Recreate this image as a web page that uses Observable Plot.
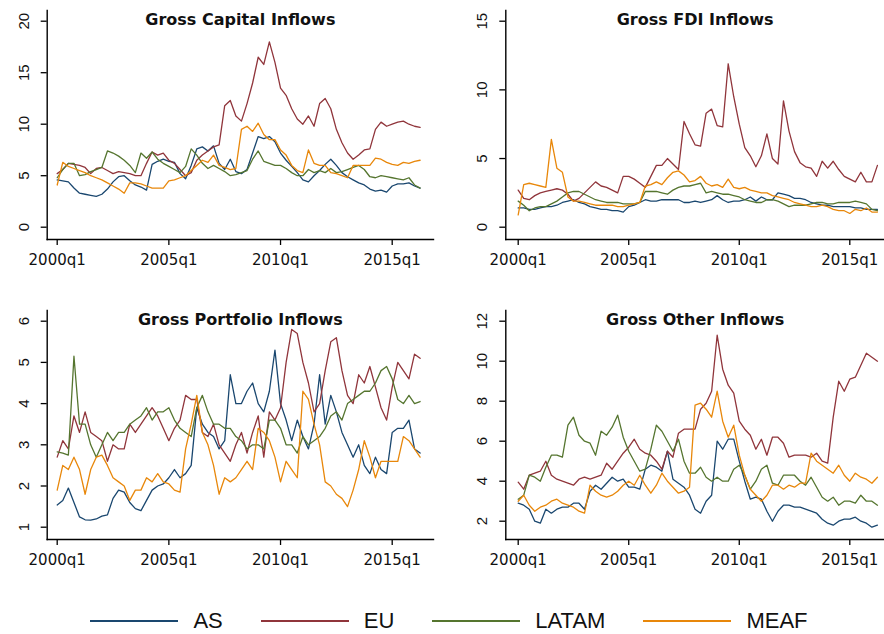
<!DOCTYPE html>
<html><head><meta charset="utf-8">
<script src="https://cdn.jsdelivr.net/npm/d3@7"></script>
<script src="https://cdn.jsdelivr.net/npm/@observablehq/plot@0.6"></script>
<style>
body{margin:0;background:#fff;}
#root{position:relative;width:884px;height:634px;overflow:hidden;background:#fff;}
.panel{position:absolute;}
.panel svg{overflow:visible;}
#legend{position:absolute;left:0;top:607px;width:884px;height:28px;display:flex;justify-content:center;gap:38px;font-family:"Liberation Sans",Arial,sans-serif;font-size:22px;color:#111;padding-left:14px;box-sizing:border-box;}
.item{display:flex;align-items:center;}
.sw{width:88px;height:2.2px;margin-right:15px;}
</style>
</head><body>
<div id="root"><div id="legend"></div></div>
<script>
const regions = ["AS", "EU", "LATAM", "MEAF"];
const colors = ["#1a476f", "#90353b", "#55752f", "#e8870a"];
const titles = ["Gross Capital Inflows", "Gross FDI Inflows", "Gross Portfolio Inflows", "Gross Other Inflows"];
const xTickYears = [2000, 2005, 2010, 2015];
const xTickLabels = ["2000q1", "2005q1", "2010q1", "2015q1"];
const yTicksCap = [0, 5, 10, 15, 20];
const yTicksFdi = [0, 5, 10, 15];
const yTicksPort = [1, 2, 3, 4, 5, 6];
const yTicksOth = [2, 4, 6, 8, 10, 12];
const startYear = 2000, nQuarters = 66;

const capAS = [4.6,4.5,4.4,3.8,3.3,3.2,3.1,3.0,3.2,3.7, 4.4,4.9,5.0,4.5,4.1,3.9,3.6,6.1,6.4,6.6, 6.4,6.3,5.2,4.7,6.0,7.6,7.8,7.4,7.9,6.2, 5.6,6.6,5.4,5.2,5.6,7.2,8.8,8.6,8.8,8.3, 7.2,6.5,5.9,5.3,4.6,4.4,5.0,5.5,6.1,6.6, 6.0,5.3,4.9,4.6,4.3,4.1,3.7,3.5,3.6,3.4, 4.0,4.2,4.2,4.3,4.0,3.8];
const capEU = [5.2,5.6,6.2,6.1,6.0,5.8,5.2,5.7,5.8,5.5, 5.2,5.4,5.3,5.2,5.0,5.0,6.2,7.3,7.0,7.2, 6.5,6.2,5.6,5.0,5.3,6.5,7.0,7.4,7.8,8.0, 11.8,12.3,10.8,10.3,12.0,14.0,16.5,15.8,18.0,16.0, 13.5,12.8,11.5,10.5,10.0,10.8,9.8,12.0,12.5,11.5, 9.5,8.2,7.2,6.6,7.0,7.5,7.6,9.5,10.2,9.8, 10.0,10.2,10.3,10.0,9.8,9.7];
const capLATAM = [4.8,5.6,6.2,6.2,5.0,5.1,5.4,5.6,5.8,7.4, 7.2,6.9,6.5,6.0,5.3,7.2,6.7,7.3,6.6,6.2, 5.9,5.6,5.3,5.9,7.6,7.0,6.2,5.7,6.0,5.7, 5.4,5.0,5.1,5.3,5.5,6.6,7.4,6.4,6.2,6.0, 6.0,5.7,5.3,5.0,5.0,5.6,5.3,5.5,5.3,5.7, 5.3,5.4,5.6,5.8,6.0,5.6,4.9,4.8,5.0,4.9, 4.8,4.7,4.6,4.8,4.1,3.8];
const capMEAF = [4.1,6.3,5.9,5.7,5.5,5.3,5.0,4.8,4.6,4.3, 4.0,3.7,3.3,4.3,4.3,4.2,4.0,3.8,3.8,3.8, 4.5,4.6,4.8,5.0,5.5,6.0,6.5,6.3,7.0,6.0, 5.8,5.6,5.7,9.5,9.8,9.3,10.1,9.0,8.5,8.5, 7.5,7.0,6.0,5.5,5.3,7.5,6.2,6.0,6.0,5.3, 5.2,5.0,4.8,6.0,6.0,6.0,6.0,6.7,6.6,6.3, 6.1,6.0,6.3,6.2,6.4,6.5];

const fdiAS = [1.4,1.4,1.3,1.3,1.4,1.5,1.5,1.6,1.8,1.9, 2.0,1.8,1.7,1.5,1.4,1.3,1.3,1.2,1.2,1.1, 1.5,1.6,1.8,2.0,1.9,1.9,2.0,2.0,2.0,2.0, 1.8,1.8,1.9,1.8,1.9,2.0,2.3,2.0,1.8,1.9, 1.9,2.0,2.2,1.9,2.2,2.0,2.0,2.5,2.4,2.3, 2.1,2.1,2.0,1.8,1.7,1.6,1.6,1.5,1.5,1.5, 1.5,1.4,1.4,1.3,1.3,1.3];
const fdiEU = [2.7,2.1,2.0,2.3,2.5,2.6,2.7,2.8,2.7,2.4, 1.9,2.1,2.5,2.9,3.3,3.0,2.9,2.7,2.5,3.7, 3.7,3.5,3.2,2.9,3.7,4.5,4.5,5.0,4.6,4.2, 7.7,6.8,6.0,5.9,8.3,8.6,7.4,7.3,11.9,9.5, 7.5,5.8,5.2,4.4,5.2,6.8,5.0,4.6,9.2,7.0, 5.5,4.7,4.4,4.3,3.7,4.8,4.3,4.8,4.2,3.7, 3.5,3.3,4.0,3.3,3.3,4.5];
const fdiLATAM = [1.9,1.6,1.2,1.4,1.5,1.5,1.7,1.9,2.2,2.5, 2.6,2.6,2.4,2.2,2.0,1.9,1.8,1.8,1.8,1.7, 1.7,1.7,1.8,2.6,2.6,2.6,2.5,2.4,2.7,2.9, 3.0,3.0,3.1,3.2,2.5,2.6,2.5,2.4,2.4,2.3, 2.2,2.0,1.9,1.8,1.8,2.0,2.0,1.9,1.7,1.5, 1.6,1.6,1.6,1.7,1.8,1.8,1.7,1.7,1.8,1.8, 1.8,1.9,1.8,1.7,1.3,1.2];
const fdiMEAF = [0.9,3.1,3.2,3.1,3.0,2.9,6.4,4.3,4.0,2.2, 1.9,1.9,1.8,1.7,1.6,1.6,1.6,1.6,1.5,1.5, 1.6,1.7,1.8,3.0,3.1,3.3,3.1,3.6,4.0,4.1, 3.8,3.3,3.4,3.7,3.2,3.0,3.1,2.9,3.5,2.9, 2.8,2.9,2.7,2.6,2.5,2.5,2.3,2.2,2.1,2.0, 1.8,1.7,1.6,1.5,1.5,1.6,1.5,1.3,1.2,1.2, 1.0,1.3,1.2,1.4,1.1,1.1];

const portAS = [1.54,1.65,1.95,1.6,1.25,1.18,1.17,1.2,1.27,1.3, 1.7,1.9,1.85,1.6,1.45,1.4,1.65,1.9,2.0,2.05, 2.2,2.4,2.2,2.3,2.5,3.9,3.5,3.3,3.2,2.9, 3.1,4.7,4.0,4.0,4.3,4.5,4.0,3.8,4.3,5.3, 4.0,3.6,3.1,3.6,3.2,2.9,3.5,4.7,3.5,4.2, 3.8,3.3,3.0,2.7,3.0,2.5,2.3,2.7,2.4,2.3, 3.3,3.4,3.4,3.6,2.9,2.8];
const portEU = [2.7,3.1,2.9,3.7,3.3,3.8,3.3,3.2,3.1,2.6, 3.0,2.9,2.9,3.5,3.3,3.5,3.7,3.9,3.7,3.4, 3.1,3.4,3.6,4.2,4.1,4.1,3.3,3.2,3.5,3.0, 2.8,2.6,3.0,3.3,2.8,3.3,3.7,2.7,3.8,3.6, 3.9,5.0,5.8,5.7,5.0,4.5,3.8,4.0,4.8,5.5, 5.6,4.8,4.2,4.0,4.7,4.5,4.9,4.4,3.9,3.6, 4.4,5.0,4.8,4.6,5.2,5.1];
const portLATAM = [2.83,2.8,2.75,5.15,3.5,3.5,3.0,2.7,3.0,3.3, 3.1,3.3,3.3,3.5,3.6,3.7,3.9,3.6,3.8,3.8, 3.9,3.6,3.4,3.3,3.2,3.9,4.2,3.8,3.5,3.5, 3.4,3.4,3.2,3.1,2.9,3.0,3.0,2.9,3.6,3.6, 3.4,3.0,3.0,2.8,3.2,3.0,3.1,3.2,3.4,3.7, 3.8,3.6,4.0,4.1,4.2,4.3,4.3,4.5,4.8,4.9, 4.6,4.1,4.0,4.2,4.0,4.05];
const portMEAF = [1.9,2.5,2.4,2.7,2.4,1.8,2.4,2.7,2.75,2.5, 2.2,2.1,2.0,1.65,1.9,1.9,2.2,2.1,2.3,2.1, 2.05,1.9,1.85,2.9,3.5,4.2,3.3,3.0,2.5,1.8, 2.2,2.1,2.2,2.4,2.6,2.4,3.4,3.3,3.1,2.7, 2.1,2.6,2.4,2.2,4.3,4.1,3.5,3.0,2.1,2.0, 1.8,1.7,1.5,1.9,2.4,3.1,2.7,2.2,2.6,2.6, 2.6,2.6,3.2,3.1,2.9,2.7];

const othAS = [2.9,2.8,2.6,2.0,1.9,2.6,2.4,2.6,2.7,2.7, 2.9,2.9,2.6,3.5,3.8,3.6,3.9,4.2,4.0,4.1, 3.7,3.7,3.6,4.6,4.8,4.7,4.5,5.5,4.1,3.9, 3.7,3.3,2.6,2.4,3.0,3.3,6.0,5.6,6.1,6.1, 5.0,4.0,3.1,3.2,3.1,2.5,2.0,2.5,2.8,2.8, 2.7,2.7,2.6,2.5,2.4,2.1,1.9,1.8,2.0,2.1, 2.1,2.2,2.0,1.9,1.7,1.8];
const othEU = [3.95,3.6,4.3,4.4,4.5,5.0,4.3,4.1,4.0,3.9, 3.8,4.1,4.2,4.1,4.2,4.3,4.9,4.6,5.0,5.4, 5.7,6.1,5.6,5.4,5.3,5.0,4.6,5.5,5.2,6.4, 6.6,6.6,6.6,7.6,7.9,8.5,11.3,9.6,8.8,8.4, 7.0,6.6,6.3,5.6,6.1,5.3,6.2,6.2,5.9,5.2, 5.3,5.3,5.3,5.2,5.4,5.0,4.9,7.2,9.0,8.5, 9.1,9.2,9.8,10.4,10.2,10.0];
const othLATAM = [3.1,3.3,4.3,4.2,4.0,4.7,5.3,5.3,5.2,6.8, 7.2,6.3,6.0,5.9,5.3,6.5,6.3,6.7,7.3,6.2, 5.5,5.0,4.5,4.6,5.6,6.8,6.5,6.0,5.5,6.1, 5.0,4.4,4.4,4.7,4.2,4.0,4.2,4.0,4.0,4.6, 4.8,4.3,3.6,4.0,4.6,4.8,3.9,3.8,4.3,4.3, 4.3,4.0,3.8,4.2,3.7,3.2,3.0,3.2,2.8,3.0, 3.0,2.9,3.3,3.0,3.0,2.8];
const othMEAF = [3.0,3.3,2.8,2.5,2.7,2.8,3.0,3.1,2.9,2.8, 2.7,2.5,2.4,3.8,3.5,3.3,3.2,3.3,3.5,3.8, 4.0,3.8,4.3,3.8,3.4,3.8,4.4,4.0,3.7,3.4, 3.5,3.7,7.8,7.9,7.6,7.2,8.5,7.0,6.2,6.8, 5.3,4.3,3.6,3.3,3.0,3.3,3.8,3.8,3.6,3.8, 3.7,3.9,3.9,5.4,5.0,4.8,4.6,4.4,4.8,4.3, 4.0,4.4,4.2,4.1,3.9,4.2];

// time axis: one entry per quarter (year + fraction)
const quarters = d3.range(nQuarters).map(i => startYear + i / 4);

function rows(seriesList) {
  const out = [];
  seriesList.forEach((vals, k) => vals.forEach((v, i) => out.push({t: quarters[i], v, region: regions[k]})));
  return out;
}

const panels = [
  {title: titles[0], data: rows([capAS, capEU, capLATAM, capMEAF]), yTicks: yTicksCap, left: 0, top: 0, right: false},
  {title: titles[1], data: rows([fdiAS, fdiEU, fdiLATAM, fdiMEAF]), yTicks: yTicksFdi, left: 442, top: 0, right: true},
  {title: titles[2], data: rows([portAS, portEU, portLATAM, portMEAF]), yTicks: yTicksPort, left: 0, top: 300, right: false},
  {title: titles[3], data: rows([othAS, othEU, othLATAM, othMEAF]), yTicks: yTicksOth, left: 442, top: 300, right: true}
];

const root = document.getElementById("root");
panels.forEach((p, idx) => {
  const yMin = p.yTicks[0], yMax = p.yTicks[p.yTicks.length - 1];
  const yBottom = idx === 3 ? 220.7 : 226.7;
  const chart = Plot.plot({
    width: 442,
    height: 272,
    marginLeft: p.right ? 63.3 : 46.7,
    marginRight: p.right ? 0 : 9,
    marginTop: 10,
    marginBottom: 33,
    x: {type: "linear", domain: [2000, 2015], range: p.right ? [75.7, 407.3] : [56.7, 391.7]},
    y: {domain: [yMin, yMax], range: [yBottom, 20.7]},
    color: {domain: regions, range: colors},
    style: {background: "transparent", color: "#111", overflow: "visible"},
    marks: [
      Plot.axisX({ticks: xTickYears, tickFormat: d => xTickLabels[xTickYears.indexOf(d)], tickSize: 6, tickPadding: 8.5, fontSize: 15, fontFamily: "DejaVu Sans", stroke: "#000", strokeWidth: 1.3, label: null}),
      Plot.axisY({ticks: p.yTicks, tickFormat: d => String(d), tickSize: 6, tickPadding: 12.4, tickRotate: -90, textAnchor: "middle", lineAnchor: "bottom", fontSize: 15, fontFamily: "Liberation Sans", stroke: "#000", strokeWidth: 1.3, label: null}),
      Plot.frame({anchor: "left", stroke: "#000", strokeWidth: 1.4}),
      Plot.frame({anchor: "bottom", stroke: "#000", strokeWidth: 1.4}),
      Plot.line(p.data, {x: "t", y: "v", z: "region", stroke: "region", strokeWidth: 1.3}),
      Plot.text([p.title], {frameAnchor: "top", dy: 9.5, lineAnchor: "middle", fontSize: 16, fontWeight: "bold", fontFamily: "DejaVu Sans", fill: "#111"})
    ]
  });
  const div = document.createElement("div");
  div.className = "panel";
  div.style.left = p.left + "px";
  div.style.top = p.top + "px";
  div.appendChild(chart);
  root.appendChild(div);
});

const legend = document.getElementById("legend");
regions.forEach((r, k) => {
  const item = document.createElement("div");
  item.className = "item";
  const sw = document.createElement("div");
  sw.className = "sw";
  sw.style.background = colors[k];
  const label = document.createElement("span");
  label.textContent = r;
  item.appendChild(sw);
  item.appendChild(label);
  legend.appendChild(item);
});
</script>
</body></html>
